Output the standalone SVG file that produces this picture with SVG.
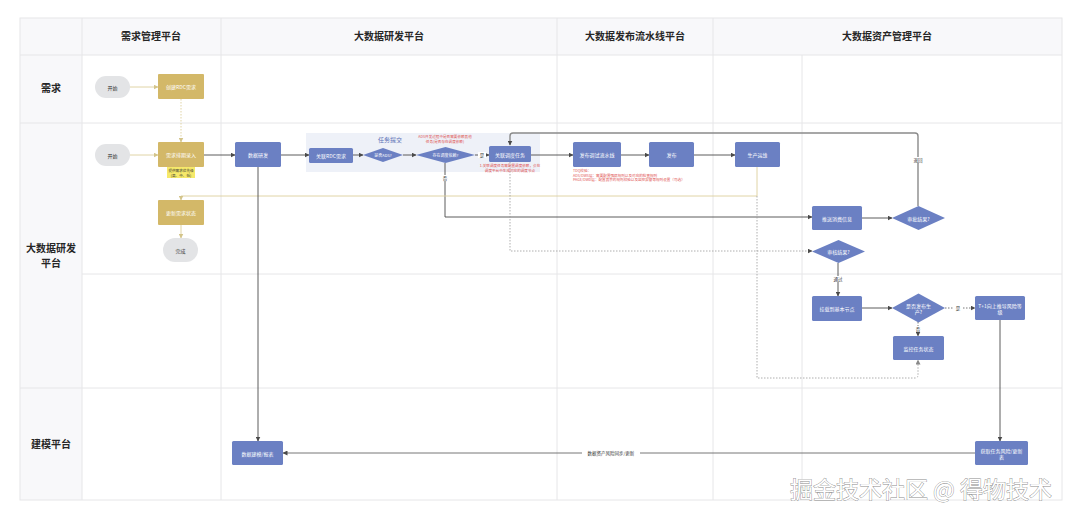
<svg xmlns="http://www.w3.org/2000/svg" width="1080" height="520" viewBox="0 0 1080 520">
<defs>
<style>
.grid{stroke:#e6e6e8;stroke-width:1;fill:none}
.hdr{font-family:"Noto Sans CJK SC","Noto Sans",sans-serif;font-size:10px;font-weight:bold;fill:#262626;text-anchor:middle}
.blue{fill:#6b80c3}
.gold{fill:#d3b868}
.oval{fill:#e3e4e6}
.nt{font-family:"Noto Sans CJK SC","Noto Sans",sans-serif;font-size:5px;fill:#ffffff;text-anchor:middle;dominant-baseline:central}
.ot{font-family:"Noto Sans CJK SC","Noto Sans",sans-serif;font-size:5px;fill:#333333;text-anchor:middle;dominant-baseline:central}
.red{font-family:"Noto Sans CJK SC","Noto Sans",sans-serif;font-size:3.6px;fill:#e0504f}
.ln{stroke:#4a4a4a;stroke-width:0.9;fill:none}
.yl{stroke:#dccf9c;stroke-width:0.9;fill:none}
.yd{stroke:#dccf9c;stroke-width:0.9;fill:none;stroke-dasharray:1.5 1.5}
.dl{stroke:#9a9a9a;stroke-width:0.8;fill:none;stroke-dasharray:1.5 1.5}
.gl{stroke:#8a8a8a;stroke-width:1.4;fill:none}
.lb{font-family:"Noto Sans CJK SC","Noto Sans",sans-serif;font-size:4.5px;fill:#333333;text-anchor:middle;dominant-baseline:central}
.lbg{fill:#ffffff}
</style>
<marker id="a" viewBox="0 0 10 10" refX="9" refY="5" markerWidth="5" markerHeight="5" orient="auto" markerUnits="userSpaceOnUse"><path d="M0 0 L10 5 L0 10 z" fill="#4a4a4a"/></marker>
<marker id="ay" viewBox="0 0 10 10" refX="9" refY="5" markerWidth="5" markerHeight="5" orient="auto" markerUnits="userSpaceOnUse"><path d="M0 0 L10 5 L0 10 z" fill="#d3c48a"/></marker>
<marker id="ag" viewBox="0 0 10 10" refX="9" refY="5" markerWidth="5" markerHeight="5" orient="auto" markerUnits="userSpaceOnUse"><path d="M0 0 L10 5 L0 10 z" fill="#8a8a8a"/></marker>
</defs>

<!-- table / swimlanes -->
<g id="lanes">
<rect x="20" y="18" width="1042" height="482" fill="#ffffff"/>
<rect x="20" y="18" width="1042" height="37" fill="#f8f8fa"/>
<rect x="20" y="18" width="62" height="482" fill="#f8f8fa"/>
<rect x="20" y="18" width="1042" height="482" class="grid"/>
<line class="grid" x1="20" y1="55" x2="1062" y2="55"/>
<line class="grid" x1="20" y1="123" x2="1062" y2="123"/>
<line class="grid" x1="82" y1="274" x2="1062" y2="274"/>
<line class="grid" x1="20" y1="388" x2="1062" y2="388"/>
<line class="grid" x1="82" y1="18" x2="82" y2="500"/>
<line class="grid" x1="221" y1="18" x2="221" y2="500"/>
<line class="grid" x1="557" y1="18" x2="557" y2="500"/>
<line class="grid" x1="713" y1="18" x2="713" y2="500"/>
<line class="grid" x1="802" y1="55" x2="802" y2="500"/>
<text class="hdr" x="151" y="40">需求管理平台</text>
<text class="hdr" x="389" y="40">大数据研发平台</text>
<text class="hdr" x="635" y="40">大数据发布流水线平台</text>
<text class="hdr" x="887" y="40">大数据资产管理平台</text>
<text class="hdr" x="51" y="92">需求</text>
<text class="hdr" x="51" y="252">大数据研发</text>
<text class="hdr" x="51" y="267">平台</text>
<text class="hdr" x="51" y="448">建模平台</text>
</g>

<!-- group background -->
<rect x="306" y="133" width="234" height="39" fill="#eef1f8"/>

<!-- connectors -->
<g id="connectors">
<line class="yl" x1="130" y1="87" x2="158" y2="87" marker-end="url(#ay)"/>
<line class="yd" x1="181" y1="99" x2="181" y2="142" marker-end="url(#ay)"/>
<line class="yl" x1="130" y1="155" x2="158" y2="155" marker-end="url(#ay)"/>
<line class="ln" x1="204" y1="155" x2="235" y2="155" marker-end="url(#a)"/>
<line class="ln" x1="281" y1="155" x2="309" y2="155" marker-end="url(#a)"/>
<line class="ln" x1="353" y1="155" x2="363" y2="155" marker-end="url(#a)"/>
<line class="ln" x1="403" y1="155" x2="416" y2="155" marker-end="url(#a)"/>
<line class="ln" x1="475" y1="155" x2="489" y2="155" marker-end="url(#a)"/>
<path class="ln" d="M445 163 V217 H812" marker-end="url(#a)"/>
<line class="ln" x1="531" y1="155" x2="573" y2="155" marker-end="url(#a)"/>
<line class="ln" x1="621" y1="155" x2="649" y2="155" marker-end="url(#a)"/>
<line class="ln" x1="694" y1="155" x2="735" y2="155" marker-end="url(#a)"/>
<path class="yl" d="M757 166 V196 H181 V200" marker-end="url(#ay)"/>
<line class="yl" x1="181" y1="225" x2="181" y2="238" marker-end="url(#ay)"/>
<path class="dl" d="M757 196 V378 H915 Q918 378 918 375 V360" marker-end="url(#ag)"/>
<line class="ln" x1="258" y1="166" x2="258" y2="441" marker-end="url(#a)"/>
<path class="dl" d="M510 162 V251 H812" marker-end="url(#a)"/>
<line class="ln" x1="862" y1="218" x2="892" y2="218" marker-end="url(#a)"/>
<path class="gl" d="M918 206 V136 Q918 133 915 133 H513 Q510 133 510 136 V145" marker-end="url(#a)"/>
<line class="ln" x1="838" y1="263" x2="838" y2="296" marker-end="url(#a)"/>
<line class="ln" x1="862" y1="308" x2="892" y2="308" marker-end="url(#a)"/>
<line class="dl" x1="945" y1="308" x2="975" y2="308" marker-end="url(#a)" style="stroke:#555"/>
<line class="dl" x1="918" y1="322" x2="918" y2="336" marker-end="url(#a)" style="stroke:#555"/>
<line class="ln" x1="1000" y1="320" x2="1000" y2="441" marker-end="url(#a)"/>
<line class="ln" x1="975" y1="453" x2="283" y2="453" marker-end="url(#a)" style="stroke:#666"/>
<!-- labels -->
<rect class="lbg" x="478" y="152" width="8" height="6"/><text class="lb" x="482" y="155">是</text>
<rect class="lbg" x="441" y="175" width="8" height="6"/><text class="lb" x="445" y="178">否</text>
<rect class="lbg" x="912" y="157" width="12" height="6"/><text class="lb" x="918" y="160">退回</text>
<rect class="lbg" x="832" y="276" width="12" height="6"/><text class="lb" x="838" y="279">通过</text>
<rect class="lbg" x="954" y="305" width="8" height="6"/><text class="lb" x="958" y="308">是</text>
<rect class="lbg" x="914" y="326" width="8" height="6"/><text class="lb" x="918" y="329">否</text>
<rect class="lbg" x="582" y="450" width="58" height="6"/><text class="lb" x="611" y="453">数据资产风险同步/更新</text>
</g>

<!-- nodes -->
<g id="n-start1"><rect class="oval" x="95" y="76" width="35" height="22" rx="11"/><text class="ot" x="112.5" y="87">开始</text></g>
<g id="n-rdc"><rect class="gold" x="158" y="74" width="46" height="25" rx="1"/><text class="nt" x="181" y="86.5">创建RDC需求</text></g>
<g id="n-start2"><rect class="oval" x="95" y="144" width="35" height="22" rx="11"/><text class="ot" x="112.5" y="155">开始</text></g>
<g id="n-plan"><rect class="gold" x="158" y="142" width="46" height="25" rx="1"/><text class="nt" x="181" y="154.5">需求排期录入</text></g>
<g id="n-prio"><rect x="167" y="167" width="28" height="11" fill="#f6e96a"/><text class="ot" x="181" y="170" style="font-size:3.6px">提供需求优先级</text><text class="ot" x="181" y="175" style="font-size:3.6px">(高、中、低)</text></g>
<g id="n-upd"><rect class="gold" x="158" y="200" width="46" height="25" rx="1"/><text class="nt" x="181" y="212.5">更新需求状态</text></g>
<g id="n-done"><rect class="oval" x="163" y="238" width="35" height="24" rx="12"/><text class="ot" x="180.5" y="250">完成</text></g>
<g id="n-dev"><rect class="blue" x="235" y="142" width="46" height="25" rx="1.5"/><text class="nt" x="258" y="154.5">数据研发</text></g>
<g id="n-rel"><rect class="blue" x="309" y="148" width="44" height="15" rx="1.5"/><text class="nt" x="331" y="155.5">关联RDC需求</text></g>
<g id="n-ads"><path class="blue" d="M363 155 L383 148 L403 155 L383 162 Z"/><text class="nt" x="383" y="155" style="font-size:4px">是否ADS?</text></g>
<text x="390" y="142" style="font-family:'Noto Sans CJK SC',sans-serif;font-size:6px;fill:#5a6fb5;text-anchor:middle">任务提交</text>
<g id="n-dep"><path class="blue" d="M416 155 L445.5 147 L475 155 L445.5 163 Z"/><text class="nt" x="445.5" y="155" style="font-size:4px">存在调度依赖?</text></g>
<text class="red" x="445" y="138" text-anchor="middle">ADS开发过程中是否需要依赖其他</text>
<text class="red" x="445" y="142.5" text-anchor="middle">任务(是否存在调度依赖)</text>
<g id="n-sched"><rect class="blue" x="489" y="146" width="42" height="16" rx="1.5"/><text class="nt" x="510" y="154">关联调度任务</text></g>
<text class="red" x="510" y="167" text-anchor="middle">1.关联调度任务需配置调度依赖，会在</text>
<text class="red" x="510" y="171.5" text-anchor="middle">调度平台中生成对应的调度节点</text>
<g id="n-pipe"><rect class="blue" x="573" y="142" width="48" height="25" rx="1.5"/><text class="nt" x="597" y="154.5">发布调试流水线</text></g>
<text class="red" x="573" y="172">TDQ校验：</text>
<text class="red" x="573" y="176.5">ADS/DWS层：需要配置强弱规则以及对应的检查规则</text>
<text class="red" x="573" y="181">PAGE/DWD层：配置其余的规则校验以及监控报警等规则设置（可选）</text>
<g id="n-pub"><rect class="blue" x="649" y="142" width="45" height="25" rx="1.5"/><text class="nt" x="671.5" y="154.5">发布</text></g>
<g id="n-ops"><rect class="blue" x="735" y="142" width="45" height="25" rx="1.5"/><text class="nt" x="757.5" y="154.5">生产运维</text></g>
<g id="n-push"><rect class="blue" x="812" y="206" width="50" height="24" rx="1.5"/><text class="nt" x="837" y="218">推送消费信息</text></g>
<g id="n-appr"><path class="blue" d="M892 218 L918.5 206 L945 218 L918.5 230 Z"/><text class="nt" x="918.5" y="218">审批结果?</text></g>
<g id="n-audit"><path class="blue" d="M812 251.5 L838.5 240 L865 251.5 L838.5 263 Z"/><text class="nt" x="838.5" y="251.5">审核结果?</text></g>
<g id="n-mount"><rect class="blue" x="812" y="296" width="50" height="25" rx="1.5"/><text class="nt" x="837" y="308.5">挂载到基本节点</text></g>
<g id="n-prod"><path class="blue" d="M892 308 L918.5 293.5 L945 308 L918.5 322.5 Z"/><text class="nt" x="918.5" y="305">是否发布生</text><text class="nt" x="918.5" y="311">产?</text></g>
<g id="n-risk"><rect class="blue" x="975" y="296" width="50" height="24" rx="1.5"/><text class="nt" x="1000" y="305">T+1向上推导风险等</text><text class="nt" x="1000" y="311">级</text></g>
<g id="n-mon"><rect class="blue" x="893" y="336" width="51" height="24" rx="1.5"/><text class="nt" x="918.5" y="348">监控任务状态</text></g>
<g id="n-model"><rect class="blue" x="232" y="441" width="51" height="24" rx="1.5"/><text class="nt" x="257.5" y="453">数据建模/报表</text></g>
<g id="n-get"><rect class="blue" x="975" y="441" width="53" height="24" rx="1.5"/><text class="nt" x="1001.5" y="450">获取任务风险/更新</text><text class="nt" x="1001.5" y="456">表</text></g>

<text x="921" y="498" style="font-family:'Noto Sans CJK SC',sans-serif;font-size:23px;fill:#ffffff;stroke:#8a8a8a;stroke-width:0.8;paint-order:stroke;text-anchor:middle">掘金技术社区 @ 得物技术</text>
</svg>
